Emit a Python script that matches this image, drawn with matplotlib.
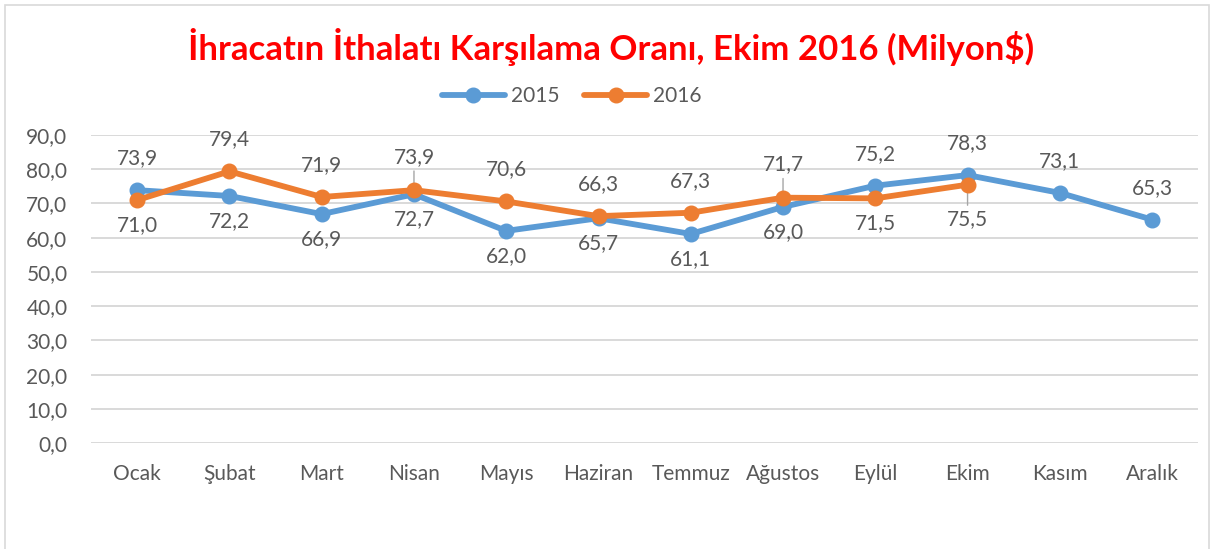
import matplotlib
matplotlib.use("Agg")
import matplotlib.pyplot as plt
from matplotlib.patches import Rectangle

plt.rcParams['font.family'] = ['Lato', 'DejaVu Sans']

months = ["Ocak", "Şubat", "Mart", "Nisan", "Mayıs", "Haziran", "Temmuz",
          "Ağustos", "Eylül", "Ekim", "Kasım", "Aralık"]
y2015 = [73.9, 72.2, 66.9, 72.7, 62.0, 65.7, 61.1, 69.0, 75.2, 78.3, 73.1, 65.3]
y2016 = [71.0, 79.4, 71.9, 73.9, 70.6, 66.3, 67.3, 71.7, 71.5, 75.5]

# which side each data label sits on (True = above the point)
above2015 = [True, False, False, False, False, False, False, False, True, True, True, True]
above2016 = [False, True, True, True, True, True, True, True, False, False]
leader2016 = [3, 7, 9]

BLUE = "#5B9BD5"
ORANGE = "#ED7D31"
TXT = "#595959"


def fmt(v):
    return f"{v:.1f}".replace(".", ",")


def label_points(ax, ys, above, leaders=()):
    for i, v in enumerate(ys):
        if i in leaders:
            dy = 24 if above[i] else -25
            ax.annotate(fmt(v), xy=(i, v), xytext=(0, dy), textcoords="offset points",
                        ha="center", va="center", fontsize=15, color=TXT,
                        arrowprops=dict(arrowstyle="-", color="#a6a6a6", lw=1,
                                        shrinkA=1, shrinkB=2))
        else:
            dy = 23 if above[i] else -18
            ax.annotate(fmt(v), xy=(i, v), xytext=(0, dy), textcoords="offset points",
                        ha="center", va="center", fontsize=15, color=TXT)


fig = plt.figure(figsize=(12.14, 5.49), dpi=100)
ax = fig.add_axes([0.075, 0.193, 0.912, 0.561])

ax.plot(range(len(y2015)), y2015, color=BLUE, lw=4.2, marker="o", ms=10.5,
        label="2015", zorder=3, solid_capstyle="round")
ax.plot(range(len(y2016)), y2016, color=ORANGE, lw=4.2, marker="o", ms=10.5,
        label="2016", zorder=4, solid_capstyle="round")

label_points(ax, y2015, above2015)
label_points(ax, y2016, above2016, leader2016)

ax.set_xlim(-0.5, len(months) - 0.5)
ax.set_ylim(0, 90)
ax.set_yticks(range(0, 91, 10))
ax.set_yticklabels([fmt(t) for t in range(0, 91, 10)])
ax.set_xticks(range(len(months)))
ax.set_xticklabels(months)
ax.tick_params(axis="both", length=0, labelsize=15, colors=TXT)
ax.tick_params(axis="x", pad=15)
ax.tick_params(axis="y", pad=17)
ax.grid(axis="y", color="#d9d9d9", lw=1.4)
ax.set_axisbelow(True)
for s in ax.spines.values():
    s.set_visible(False)

fig.text(0.503, 0.915, "İhracatın İthalatı Karşılama Oranı, Ekim 2016 (Milyon$)",
         ha="center", va="center", fontsize=25, fontweight="bold", color="#FF0000")

leg = fig.legend(loc="center", bbox_to_anchor=(0.471, 0.825), ncol=2, frameon=False,
                 fontsize=15, handlelength=3.0, columnspacing=1.2, handletextpad=0.3)
for t in leg.get_texts():
    t.set_color(TXT)

fig.patches.append(Rectangle((0.004, -0.01), 0.992, 1.0, transform=fig.transFigure,
                             fill=False, edgecolor="#d9d9d9", lw=1.2))

fig.savefig("out.png", dpi=100)
